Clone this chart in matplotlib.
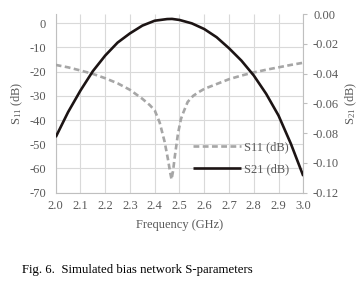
import numpy as np
import matplotlib
matplotlib.use("Agg")
import matplotlib.pyplot as plt

# ----------------------------
# Data
# ----------------------------
FREQ_S11 = [2.00, 2.05, 2.10, 2.15, 2.20, 2.25, 2.30, 2.35, 2.38, 2.40,
            2.42, 2.44, 2.454, 2.462, 2.468, 2.474, 2.481, 2.494, 2.506,
            2.515, 2.533, 2.555, 2.575, 2.60, 2.65, 2.70, 2.75, 2.80,
            2.85, 2.90, 2.95, 3.00]
S11_DB = [-17.2, -18.2, -19.5, -20.9, -22.7, -24.8, -27.5, -31.2, -33.8, -36.0,
          -41.0, -49.0, -56.5, -61.5, -64.5, -61.0, -55.1, -45.5, -39.5,
          -37.0, -32.5, -30.0, -28.6, -27.1, -25.1, -23.1, -21.6, -20.3,
          -19.2, -18.2, -17.2, -16.3]

FREQ_S21 = [2.00, 2.05, 2.10, 2.15, 2.20, 2.25, 2.30, 2.35, 2.40, 2.45,
            2.47, 2.50, 2.55, 2.60, 2.65, 2.70, 2.75, 2.80, 2.85, 2.90,
            2.95, 3.00]
S21_DB = [-0.0827, -0.0659, -0.0514, -0.0384, -0.0279, -0.0192, -0.0130,
          -0.0078, -0.0045, -0.0034, -0.0033, -0.0040, -0.0063, -0.0101,
          -0.0156, -0.0230, -0.0313, -0.0413, -0.0536, -0.0682, -0.0872,
          -0.1088]

X_TICKS = np.round(np.arange(2.0, 3.01, 0.1), 1)
Y1_TICKS = np.arange(-70, 1, 10)
Y2_TICKS = np.round(np.arange(-0.12, 0.001, 0.02), 2)

GREY_TXT = "#595959"
GRID = "#D9D9D9"
S11_COLOR = "#A6A6A6"
S21_COLOR = "#1c1414"

plt.rcParams.update({
    "font.family": ["Liberation Serif", "DejaVu Serif"],
    "font.size": 9,
    "mathtext.fontset": "custom",
    "mathtext.rm": "Liberation Serif",
    "mathtext.it": "Liberation Serif:italic",
    "lines.solid_capstyle": "butt",
})

fig = plt.figure(figsize=(3.6, 2.84), dpi=100)
ax = fig.add_axes([0.1547, 0.3215, 0.6878, 0.6292])
ax2 = ax.twinx()

# S11 on the primary axis
l1, = ax.plot(FREQ_S11, S11_DB, color=S11_COLOR, lw=1.9,
              dashes=(2.2, 1.3), label="S11 (dB)", zorder=3)
# S21 on the secondary axis
l2, = ax2.plot(FREQ_S21, S21_DB, color=S21_COLOR, lw=1.9,
               label="S21 (dB)", zorder=3)

ax.set_xlim(2.0, 3.0)
ax.set_ylim(-70, 3.84)
ax2.set_ylim(-0.12, 0.0)

ax.set_xticks(X_TICKS)
ax.set_xticklabels([f"{v:.1f}" for v in X_TICKS])
ax.set_yticks(Y1_TICKS)
ax.set_yticklabels([f"{v:d}" for v in Y1_TICKS])
ax2.set_yticks(Y2_TICKS)
ax2.set_yticklabels([f"{v:.2f}" for v in Y2_TICKS])

ax.grid(True, color=GRID, lw=0.8)
ax.set_axisbelow(True)

for a in (ax, ax2):
    for s in a.spines.values():
        s.set_visible(False)
ax.spines["left"].set_visible(True)
ax.spines["left"].set_color("#BFBFBF")
ax.spines["bottom"].set_visible(True)
ax.spines["bottom"].set_color("#BFBFBF")
ax2.spines["right"].set_visible(True)
ax2.spines["right"].set_color("#BFBFBF")

ax.tick_params(axis="x", length=0, pad=5, labelsize=9, labelcolor=GREY_TXT)
ax.tick_params(axis="y", length=0, pad=7, labelsize=9, labelcolor=GREY_TXT)
ax2.tick_params(axis="y", length=3, width=0.8, color="#BFBFBF", pad=4,
                labelsize=9, labelcolor=GREY_TXT)

ax.set_xlabel("Frequency (GHz)", color=GREY_TXT, fontsize=9, labelpad=5)
ax.set_ylabel("S$_{11}$ (dB)", color=GREY_TXT, fontsize=9, labelpad=3)
ax2.set_ylabel("S$_{21}$ (dB)", color=GREY_TXT, fontsize=9, labelpad=3,
               rotation=90)

ax2.legend(handles=[l1, l2], loc="upper left", bbox_to_anchor=(0.53, 0.32),
           frameon=False, fontsize=9, handlelength=3.8, handletextpad=0.3,
           labelspacing=0.75, borderpad=0, labelcolor=GREY_TXT)

fig.text(22 / 360, 1 - 270 / 284, "Fig. 6.  Simulated bias network S-parameters",
         fontsize=9.2, color="black", va="center", ha="left")

fig.savefig("out.png", dpi=100)
